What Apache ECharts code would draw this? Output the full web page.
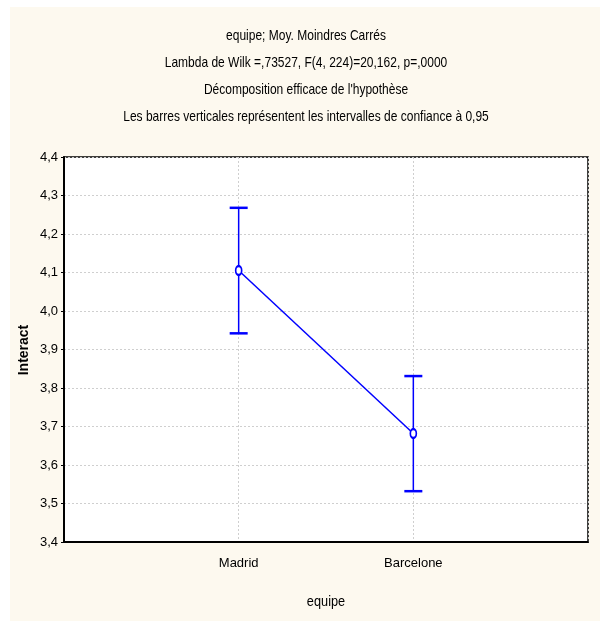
<!DOCTYPE html>
<html>
<head>
<meta charset="utf-8">
<script src="https://cdn.jsdelivr.net/npm/echarts@6/dist/echarts.min.js"></script>
<style>
  html, body { margin: 0; padding: 0; background: #ffffff; }
  #wrap { position: relative; width: 600px; height: 621px; }
  #panel { position: absolute; left: 10px; top: 7px; width: 590px; height: 614px; background: #fdf9ef; }
  #chart { position: absolute; left: 0; top: 0; width: 600px; height: 621px; }
</style>
</head>
<body>
<div id="wrap"><div id="panel"></div><div id="chart"></div></div>
<script>
const categories = ['Madrid', 'Barcelone'];
const means = [4.105, 3.682];
const lowerCI = [3.942, 3.532];
const upperCI = [4.268, 3.831];
const titleLines = [
  'equipe; Moy. Moindres Carrés',
  'Lambda de Wilk =,73527, F(4, 224)=20,162, p=,0000',
  'Décomposition efficace de l\'hypothèse',
  'Les barres verticales représentent les intervalles de confiance à 0,95'
];
const yAxisName = 'Interact';
const xAxisName = 'equipe';

const FONT = '"Liberation Sans", Arial, sans-serif';
const lineData = categories.map((c, i) => [i + 1, means[i]]);
const errData = categories.map((c, i) => [i + 1, lowerCI[i], upperCI[i]]);
const titleY = [36, 63, 90, 117];

const chart = echarts.init(document.getElementById('chart'), null, { renderer: 'canvas' });
chart.setOption({
  backgroundColor: 'transparent',
  animation: false,
  graphic: titleLines.map((t, i) => ({
    type: 'text',
    x: 306,
    y: titleY[i],
    scaleX: 0.8,
    style: {
      text: t,
      fill: '#000',
      fontSize: 15,
      fontFamily: FONT,
      align: 'center',
      verticalAlign: 'middle'
    }
  })).concat([{
    type: 'text',
    x: 24,
    y: 350,
    rotation: Math.PI / 2,
    style: {
      text: yAxisName,
      fill: '#000',
      fontSize: 14,
      fontWeight: 'bold',
      fontFamily: FONT,
      align: 'center',
      verticalAlign: 'middle'
    }
  }, {
    type: 'text',
    x: 326,
    y: 602,
    scaleX: 0.85,
    style: {
      text: xAxisName,
      fill: '#000',
      fontSize: 15,
      fontFamily: FONT,
      align: 'center',
      verticalAlign: 'middle'
    }
  }]),
  grid: {
    left: 64, top: 157, right: 12, bottom: 79,
    show: true,
    backgroundColor: '#ffffff',
    borderColor: '#000',
    borderWidth: 1.5
  },
  xAxis: {
    type: 'value',
    min: 0, max: 3, interval: 1,
    axisLine: { show: true, lineStyle: { color: '#000', width: 2 } },
    axisTick: { show: false },
    axisLabel: {
      color: '#000', fontSize: 13, fontFamily: FONT, margin: 15,
      formatter: v => (v >= 1 && v <= categories.length) ? categories[v - 1] : ''
    },
    splitLine: { show: true, lineStyle: { color: '#cfcfcf', type: [2, 2], width: 1 } }
  },
  yAxis: {
    type: 'value',
    min: 3.4, max: 4.4, interval: 0.1,
    axisLine: { show: true, lineStyle: { color: '#000', width: 2 } },
    axisTick: { show: true, length: 3, lineStyle: { color: '#000' } },
    axisLabel: {
      color: '#000', fontSize: 13, fontFamily: FONT, margin: 6,
      formatter: v => v.toFixed(1).replace('.', ',')
    },
    splitLine: { show: true, lineStyle: { color: '#cfcfcf', type: [2, 2], width: 1 } }
  },
  series: [
    {
      type: 'custom',
      data: errData,
      z: 3,
      renderItem: function (params, api) {
        const x = api.value(0);
        const lo = api.coord([x, api.value(1)]);
        const hi = api.coord([x, api.value(2)]);
        const hw = 9;
        const style = { stroke: '#0000ff', lineWidth: 1.5 };
        return {
          type: 'group',
          children: [
            { type: 'line', shape: { x1: lo[0], y1: lo[1], x2: hi[0], y2: hi[1] }, style },
            { type: 'line', shape: { x1: lo[0] - hw, y1: lo[1], x2: lo[0] + hw, y2: lo[1] }, style: { stroke: '#0000ff', lineWidth: 2.5 } },
            { type: 'line', shape: { x1: hi[0] - hw, y1: hi[1], x2: hi[0] + hw, y2: hi[1] }, style: { stroke: '#0000ff', lineWidth: 2.5 } }
          ]
        };
      }
    },
    {
      type: 'line',
      data: lineData,
      z: 5,
      symbol: 'emptyCircle',
      symbolSize: [6, 9],
      lineStyle: { color: '#0000ff', width: 1.5 },
      itemStyle: { color: '#0000ff', borderColor: '#0000ff', borderWidth: 1 }
    }
  ]
});
</script>
</body>
</html>
